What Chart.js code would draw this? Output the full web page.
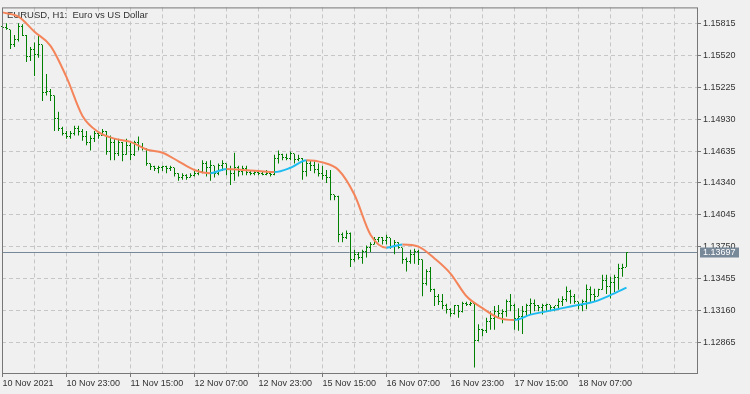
<!DOCTYPE html>
<html>
<head>
<meta charset="utf-8">
<script src="https://cdn.jsdelivr.net/npm/chart.js@4.4.0/dist/chart.umd.min.js"></script>
<style>
  html, body { margin: 0; padding: 0; background: #f0f0f0; }
</style>
</head>
<body>
<canvas id="myChart" width="750" height="394"></canvas>
<script>
// EURUSD H1 bars, index 0 = 10 Nov 2021 07:00
var openP = [
  1.1579,1.1578,1.1576,1.1562,1.1567,1.1579,1.1571,1.1551,1.1558,1.1553,
  1.1562,1.1518,1.1519,1.1515,1.1494,1.1484,1.1480,1.1477,1.1480,1.1484,
  1.1482,1.1477,1.1471,1.1475,1.1480,1.1478,1.1482,1.1463,1.1471,1.1461,
  1.1471,1.1460,1.1469,1.1460,1.1471,1.1468,1.1466,1.1452,1.1449,1.1447,
  1.1448,1.1449,1.1447,1.1448,1.1443,1.1439,1.1441,1.1439,1.1441,1.1443,
  1.1445,1.1452,1.1448,1.1450,1.1443,1.1450,1.1452,1.1446,1.1443,1.1448,
  1.1445,1.1447,1.1444,1.1443,1.1444,1.1443,1.1442,1.1443,1.1442,1.1457,
  1.1460,1.1458,1.1457,1.1461,1.1456,1.1457,1.1445,1.1452,1.1450,1.1446,
  1.1443,1.1441,1.1439,1.1423,1.1421,1.1386,1.1383,1.1387,1.1363,1.1368,
  1.1365,1.1370,1.1374,1.1377,1.1382,1.1383,1.1381,1.1383,1.1375,1.1379,
  1.1374,1.1363,1.1361,1.1368,1.1370,1.1363,1.1341,1.1352,1.1335,1.1329,
  1.1324,1.1320,1.1317,1.1313,1.1320,1.1315,1.1322,1.1321,1.1322,1.1288,
  1.1298,1.1297,1.1306,1.1308,1.1315,1.1313,1.1315,1.1324,1.1320,1.1308,
  1.1310,1.1315,1.1320,1.1322,1.1320,1.1319,1.1320,1.1321,1.1319,1.1320,
  1.1324,1.1326,1.1333,1.1329,1.1324,1.1320,1.1324,1.1335,1.1331,1.1329,
  1.1335,1.1344,1.1338,1.1342,1.1346,1.1355,1.1356
];
var highP = [
  1.1580,1.1582,1.1576,1.1571,1.1582,1.1581,1.1571,1.1560,1.1564,1.1571,
  1.1562,1.1535,1.1521,1.1515,1.1500,1.1486,1.1482,1.1482,1.1487,1.1487,
  1.1484,1.1482,1.1478,1.1482,1.1482,1.1484,1.1482,1.1478,1.1475,1.1475,
  1.1472,1.1475,1.1471,1.1473,1.1477,1.1471,1.1466,1.1452,1.1450,1.1450,
  1.1450,1.1450,1.1450,1.1448,1.1443,1.1443,1.1442,1.1443,1.1445,1.1447,
  1.1455,1.1454,1.1455,1.1450,1.1452,1.1455,1.1452,1.1450,1.1462,1.1450,
  1.1450,1.1450,1.1446,1.1446,1.1446,1.1445,1.1446,1.1445,1.1460,1.1464,
  1.1461,1.1461,1.1463,1.1461,1.1460,1.1457,1.1455,1.1455,1.1454,1.1452,
  1.1450,1.1446,1.1446,1.1423,1.1422,1.1388,1.1390,1.1388,1.1372,1.1370,
  1.1372,1.1376,1.1379,1.1384,1.1384,1.1384,1.1386,1.1383,1.1381,1.1379,
  1.1374,1.1365,1.1372,1.1373,1.1372,1.1363,1.1354,1.1356,1.1336,1.1331,
  1.1331,1.1322,1.1318,1.1321,1.1321,1.1324,1.1324,1.1324,1.1322,1.1303,
  1.1299,1.1309,1.1315,1.1320,1.1321,1.1317,1.1326,1.1331,1.1322,1.1318,
  1.1320,1.1322,1.1327,1.1326,1.1321,1.1322,1.1322,1.1321,1.1320,1.1327,
  1.1329,1.1338,1.1335,1.1331,1.1324,1.1326,1.1340,1.1338,1.1336,1.1336,
  1.1349,1.1349,1.1347,1.1349,1.1359,1.1359,1.13697
];
var lowP = [
  1.1577,1.1576,1.1558,1.1560,1.1565,1.1570,1.1546,1.1547,1.1533,1.1550,
  1.1510,1.1515,1.1510,1.1482,1.1482,1.1478,1.1475,1.1475,1.1478,1.1478,
  1.1473,1.1469,1.1464,1.1472,1.1475,1.1478,1.1460,1.1455,1.1455,1.1459,
  1.1454,1.1460,1.1455,1.1459,1.1464,1.1464,1.1450,1.1446,1.1445,1.1443,
  1.1445,1.1443,1.1445,1.1440,1.1436,1.1437,1.1437,1.1439,1.1440,1.1441,
  1.1443,1.1440,1.1436,1.1439,1.1441,1.1445,1.1441,1.1432,1.1436,1.1440,
  1.1441,1.1441,1.1441,1.1441,1.1441,1.1441,1.1441,1.1440,1.1441,1.1452,
  1.1455,1.1455,1.1455,1.1452,1.1454,1.1437,1.1440,1.1445,1.1443,1.1440,
  1.1437,1.1434,1.1418,1.1418,1.1379,1.1379,1.1382,1.1356,1.1361,1.1363,
  1.1359,1.1365,1.1370,1.1377,1.1379,1.1377,1.1377,1.1373,1.1368,1.1373,
  1.1359,1.1352,1.1359,1.1359,1.1358,1.1329,1.1339,1.1333,1.1320,1.1321,
  1.1317,1.1313,1.1310,1.1312,1.1309,1.1314,1.1320,1.1320,1.1263,1.1287,
  1.1292,1.1295,1.1298,1.1298,1.1309,1.1304,1.1310,1.1315,1.1298,1.1297,
  1.1294,1.1310,1.1312,1.1315,1.1315,1.1312,1.1315,1.1315,1.1315,1.1317,
  1.1320,1.1324,1.1322,1.1322,1.1317,1.1315,1.1317,1.1324,1.1324,1.1329,
  1.1335,1.1331,1.1327,1.1333,1.1335,1.1347,1.1356
];
var closeP = [
  1.1578,1.1577,1.1562,1.1567,1.1579,1.1571,1.1551,1.1558,1.1553,1.1562,
  1.1518,1.1519,1.1515,1.1494,1.1484,1.1480,1.1477,1.1480,1.1484,1.1482,
  1.1477,1.1471,1.1475,1.1480,1.1478,1.1482,1.1463,1.1471,1.1461,1.1471,
  1.1460,1.1469,1.1460,1.1471,1.1468,1.1466,1.1452,1.1449,1.1447,1.1448,
  1.1449,1.1447,1.1448,1.1443,1.1439,1.1441,1.1439,1.1441,1.1443,1.1445,
  1.1452,1.1448,1.1450,1.1443,1.1450,1.1452,1.1446,1.1443,1.1448,1.1445,
  1.1447,1.1444,1.1443,1.1444,1.1443,1.1442,1.1443,1.1442,1.1457,1.1460,
  1.1458,1.1457,1.1461,1.1456,1.1457,1.1445,1.1452,1.1450,1.1446,1.1443,
  1.1441,1.1439,1.1423,1.1421,1.1386,1.1383,1.1387,1.1363,1.1368,1.1365,
  1.1370,1.1374,1.1377,1.1382,1.1383,1.1381,1.1383,1.1375,1.1379,1.1374,
  1.1363,1.1361,1.1368,1.1370,1.1363,1.1341,1.1352,1.1335,1.1329,1.1324,
  1.1320,1.1317,1.1313,1.1320,1.1315,1.1322,1.1321,1.1322,1.1288,1.1298,
  1.1297,1.1306,1.1308,1.1315,1.1313,1.1315,1.1324,1.1320,1.1308,1.1310,
  1.1315,1.1320,1.1322,1.1320,1.1319,1.1320,1.1321,1.1319,1.1320,1.1324,
  1.1326,1.1333,1.1329,1.1324,1.1320,1.1324,1.1335,1.1331,1.1329,1.1335,
  1.1344,1.1338,1.1342,1.1346,1.1355,1.1356,1.13697
];

// moving average, every 4th bar
var maIdx = [0,4,8,12,16,20,24,28,32,36,40,44,48,52,56,60,64,68,72,76,
             80,84,88,92,96,100,104,108,112,116,120,124,128,132,136,140,144,148,152,156];
var maVals = [1.1592,1.1588,1.1574,1.1561,1.1532,1.1496,1.1481,1.1475,1.1472,1.1465,
              1.1462,1.1454,1.1446,1.1443,1.1447,1.1446,1.1445,1.1444,1.1448,1.1455,
              1.1453,1.1446,1.1423,1.1386,1.1374,1.1377,1.1375,1.1364,1.1350,1.1329,
              1.1318,1.1309,1.1307,1.1312,1.1315,1.1318,1.1321,1.1324,1.1330,1.1337];

var timePos = [0,16,32,48,64,80,96,112,128,144];
var timeText = ['10 Nov 2021','10 Nov 23:00','11 Nov 15:00','12 Nov 07:00','12 Nov 23:00',
                '15 Nov 15:00','16 Nov 07:00','16 Nov 23:00','17 Nov 15:00','18 Nov 07:00'];
var priceTicks = [1.12865,1.13160,1.13455,1.13750,1.14045,1.14340,1.14635,1.14930,1.15225,1.15520,1.15815];
var lastPrice = 1.13697;
var titleText = 'EURUSD, H1:  Euro vs US Dollar';

var barColor = '#008000';
var maDown = '#f4845a';
var maUp = '#1ebcf0';
var gridColor = '#c6c6c6';
var frameColor = '#777777';
var textColor = '#333333';
var fontFam = '"Liberation Sans", Arial, sans-serif';

var gridIdx = [];
for (var g = 0; g <= 168; g += 8) gridIdx.push(g);

var mtPlugin = {
  id: 'mtChrome',
  beforeDraw: function(chart) {
    var ctx = chart.ctx;
    ctx.save();
    ctx.fillStyle = '#f0f0f0';
    ctx.fillRect(0, 0, chart.width, chart.height);
    ctx.restore();
  },
  beforeDatasetsDraw: function(chart) {
    var ctx = chart.ctx, a = chart.chartArea;
    var py = Math.round(chart.scales.y.getPixelForValue(lastPrice)) + 0.5;
    ctx.save();
    ctx.strokeStyle = '#778899';
    ctx.lineWidth = 1;
    ctx.beginPath();
    ctx.moveTo(a.left, py);
    ctx.lineTo(a.right, py);
    ctx.stroke();
    ctx.fillStyle = textColor;
    ctx.font = '9.5px ' + fontFam;
    ctx.textBaseline = 'middle';
    ctx.fillText(titleText, a.left + 5, a.top + 8);
    ctx.restore();
  },
  afterDatasetDraw: function(chart, args) {
    if (args.index !== 1) return;
    var ctx = chart.ctx, ys = chart.scales.y;
    ctx.save();
    ctx.fillStyle = barColor;
    args.meta.data.forEach(function(bar, i) {
      var x = Math.round(bar.x - 0.5);
      ctx.fillRect(x - 1, Math.round(ys.getPixelForValue(openP[i]) - 0.5), 1, 1);
      ctx.fillRect(x + 1, Math.round(ys.getPixelForValue(closeP[i]) - 0.5), 1, 1);
    });
    ctx.restore();
  },
  afterDraw: function(chart) {
    var ctx = chart.ctx, a = chart.chartArea;
    ctx.save();
    ctx.strokeStyle = frameColor;
    ctx.lineWidth = 1;
    ctx.strokeRect(a.left + 0.5, a.top + 0.5, a.right - a.left, a.bottom - a.top);
    var py = chart.scales.y.getPixelForValue(lastPrice);
    ctx.fillStyle = '#778899';
    ctx.fillRect(a.right + 3, Math.round(py) - 4.5, 39, 10);
    ctx.fillStyle = '#ffffff';
    ctx.font = '9px ' + fontFam;
    ctx.textBaseline = 'middle';
    ctx.fillText(lastPrice.toFixed(5), a.right + 6, Math.round(py) + 0.5);
    ctx.restore();
  }
};

var myChart = new Chart(document.getElementById('myChart'), {
  type: 'bar',
  data: {
    datasets: [{
      type: 'line',
      data: maIdx.map(function(x, k) { return {x: x, y: maVals[k]}; }),
      borderColor: maDown,
      borderWidth: 2,
      pointRadius: 0,
      cubicInterpolationMode: 'monotone',
      segment: {
        borderColor: function(c) { return c.p1.parsed.y > c.p0.parsed.y ? maUp : maDown; }
      }
    }, {
      type: 'bar',
      data: highP.map(function(h, i) { return {x: i, y: [lowP[i], h]}; }),
      backgroundColor: barColor,
      borderWidth: 0,
      barThickness: 1,
      inflateAmount: 0
    }]
  },
  options: {
    responsive: false,
    animation: false,
    layout: { padding: { left: 2, top: 2, right: 0, bottom: 0 } },
    plugins: { legend: { display: false }, tooltip: { enabled: false } },
    scales: {
      x: {
        type: 'linear',
        min: -0.125,
        max: 173.625,
        offset: false,
        afterBuildTicks: function(s) { s.ticks = gridIdx.map(function(v) { return {value: v}; }); },
        afterFit: function(s) { s.height = 21; },
        grid: {
          offset: false,
          color: function(c) { return (c.tick && c.tick.value > 0) ? gridColor : 'rgba(0,0,0,0)'; },
          tickLength: 4,
          tickColor: function(c) { return (c.tick && timePos.indexOf(c.tick.value) >= 0) ? frameColor : 'rgba(0,0,0,0)'; },
          tickBorderDash: []
        },
        border: { display: false, dash: [4, 3] },
        ticks: {
          autoSkip: false,
          maxRotation: 0,
          align: 'start',
          padding: 1,
          color: textColor,
          font: { family: fontFam, size: 9 },
          callback: function(v) { var k = timePos.indexOf(v); return k >= 0 ? timeText[k] : ''; }
        }
      },
      y: {
        position: 'right',
        min: 1.12579,
        max: 1.15966,
        afterBuildTicks: function(s) { s.ticks = priceTicks.map(function(v) { return {value: v}; }); },
        afterFit: function(s) { s.width = 53; },
        grid: { color: gridColor, tickLength: 4, tickColor: frameColor, tickBorderDash: [] },
        border: { display: false, dash: [4, 3] },
        ticks: {
          padding: 2,
          color: textColor,
          font: { family: fontFam, size: 9 },
          callback: function(v) { return v.toFixed(5); }
        }
      }
    }
  },
  plugins: [mtPlugin]
});
</script>
</body>
</html>
